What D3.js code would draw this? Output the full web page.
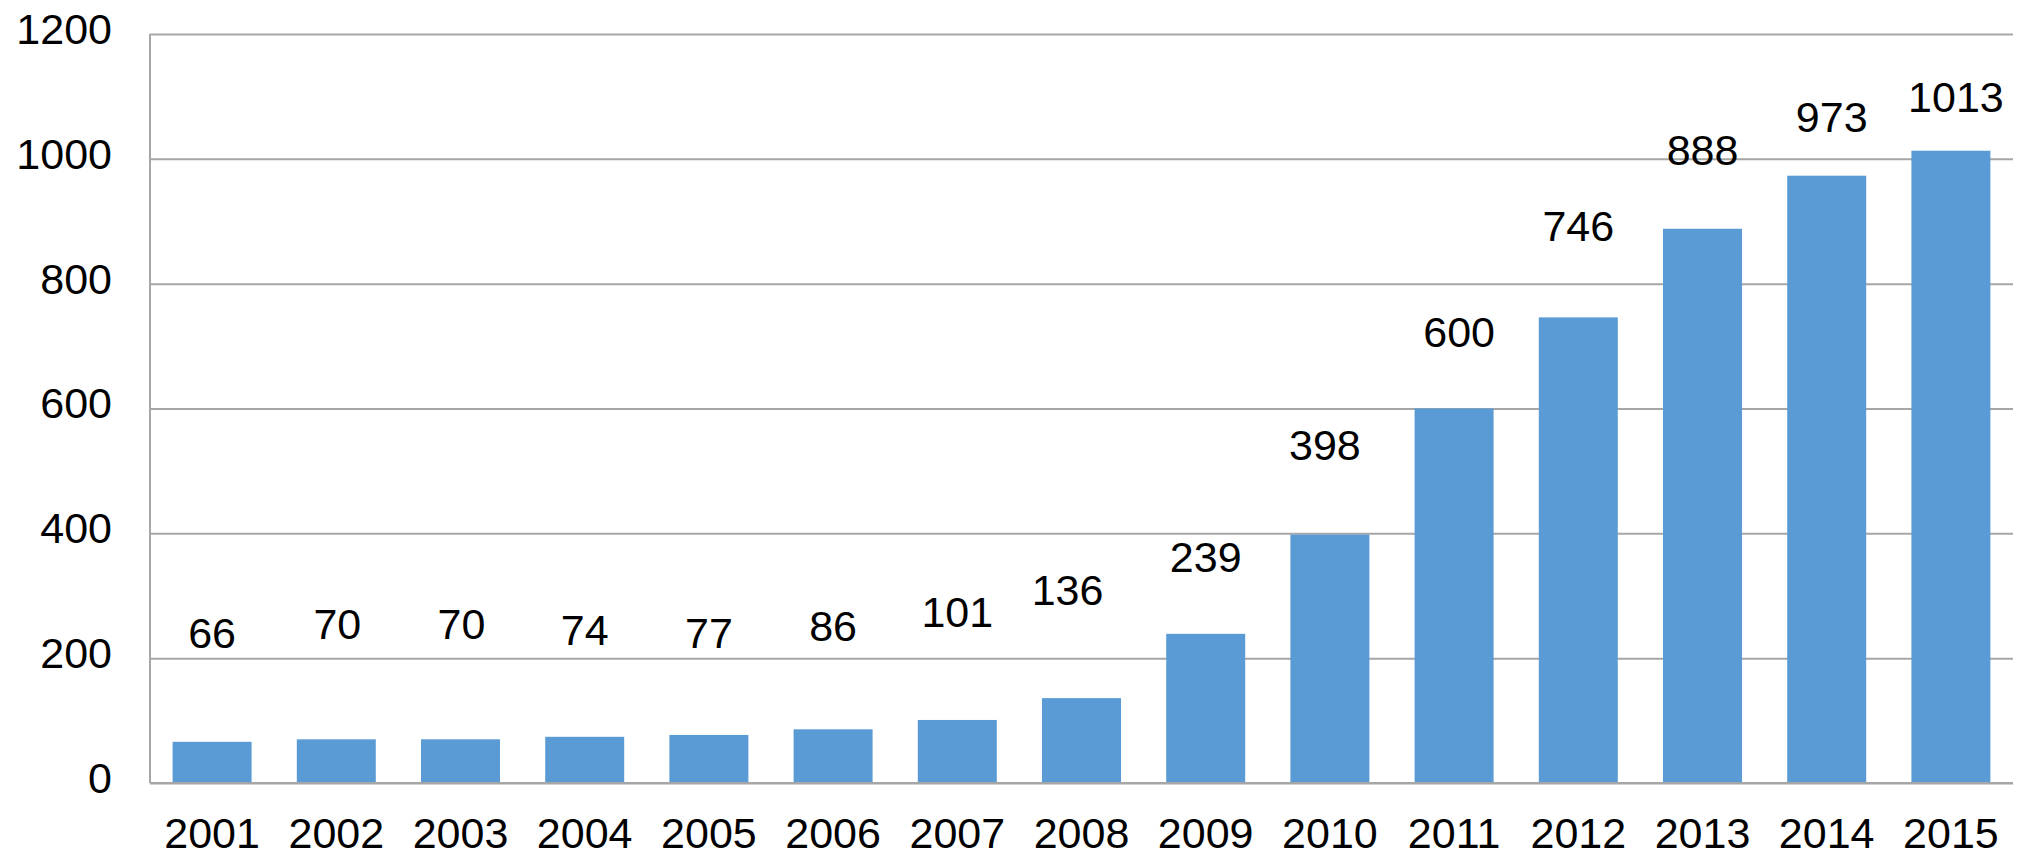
<!DOCTYPE html>
<html>
<head>
<meta charset="utf-8">
<script src="https://cdn.jsdelivr.net/npm/d3@7"></script>
<style>
  html, body { margin: 0; padding: 0; background: #fff; }
  svg { display: block; }
  text { font-family: "Liberation Sans", Arial, sans-serif; fill: #000; }
</style>
</head>
<body>
<script>
// data
var years = ["2001", "2002", "2003", "2004", "2005", "2006", "2007", "2008",
             "2009", "2010", "2011", "2012", "2013", "2014", "2015"];
var counts = [66, 70, 70, 74, 77, 86, 101, 136, 239, 398, 600, 746, 888, 973, 1013];
var yTicks = [0, 200, 400, 600, 800, 1000, 1200];

// layout
var width = 2029,
    height = 857,
    plotLeft = 150,
    plotRight = 2013,
    plotTop = 34,
    plotBottom = 783,
    fontSize = 43,
    barColor = "#5b9bd5",
    gridColor = "#a6a6a6";

// the value labels were hand-placed in the original, so each one gets its own lift / shift
var labelLift = [94, 100, 100, 92, 87, 88, 93, 93, 62, 75, 62, 76, 64, 44, 39];
var labelShift = [0, 1, 1, 0, 0, 0, 0, -14, 0, -5, 5, 0, 0, 5, 5];

var svg = d3.select("body").append("svg")
  .attr("width", width)
  .attr("height", height);

var x = d3.scaleBand()
  .domain(years)
  .range([plotLeft, plotRight])
  .paddingInner(0.364)
  .paddingOuter(0.182);

var y = d3.scaleLinear()
  .domain([0, 1200])
  .range([plotBottom, plotTop]);

// gridlines + y labels
var yAxis = d3.axisLeft(y)
  .tickValues(yTicks)
  .tickSize(-(plotRight - plotLeft))
  .tickPadding(38)
  .tickFormat(d3.format("d"));

var gy = svg.append("g")
  .attr("transform", "translate(" + plotLeft + ",0)")
  .call(yAxis);

gy.select(".domain").remove();
gy.selectAll(".tick line")
  .attr("stroke", gridColor)
  .attr("stroke-width", 2);
gy.selectAll(".tick text")
  .attr("font-size", fontSize)
  .attr("dy", "0.22em")
  .style("font-family", "'Liberation Sans', Arial, sans-serif")
  .attr("fill", "#000");

// left axis line
svg.append("line")
  .attr("x1", plotLeft).attr("x2", plotLeft)
  .attr("y1", y(1200)).attr("y2", y(0))
  .attr("stroke", gridColor)
  .attr("stroke-width", 2);

// bars
svg.selectAll("rect.bar")
  .data(counts)
  .enter()
  .append("rect")
  .attr("class", "bar")
  .attr("x", function(d, i) { return x(years[i]); })
  .attr("width", x.bandwidth())
  .attr("y", function(d) { return y(d); })
  .attr("height", function(d) { return y(0) - y(d); })
  .attr("fill", barColor);

// baseline on top of bars
svg.append("line")
  .attr("x1", plotLeft).attr("x2", plotRight)
  .attr("y1", y(0)).attr("y2", y(0))
  .attr("stroke", gridColor)
  .attr("stroke-width", 2);

// x labels
var xAxis = d3.axisBottom(x).tickSize(0).tickPadding(34);
var gx = svg.append("g")
  .attr("transform", "translate(0," + y(0) + ")")
  .call(xAxis);
gx.select(".domain").remove();
gx.selectAll(".tick text")
  .attr("font-size", fontSize)
  .style("font-family", "'Liberation Sans', Arial, sans-serif")
  .attr("fill", "#000");

// value labels
svg.selectAll("text.value")
  .data(counts)
  .enter()
  .append("text")
  .attr("class", "value")
  .attr("x", function(d, i) { return x(years[i]) + x.bandwidth() / 2 + labelShift[i]; })
  .attr("y", function(d, i) { return y(d) - labelLift[i]; })
  .attr("text-anchor", "middle")
  .attr("font-size", fontSize)
  .text(function(d) { return d; });
</script>
</body>
</html>
